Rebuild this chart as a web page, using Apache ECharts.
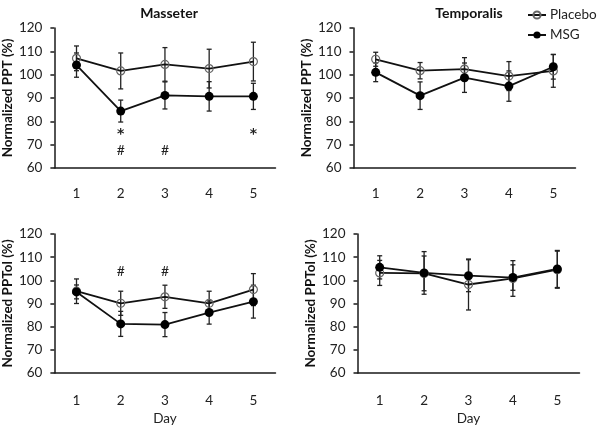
<!DOCTYPE html>
<html>
<head>
<meta charset="utf-8">
<script src="https://cdn.jsdelivr.net/npm/echarts@6/dist/echarts.min.js"></script>
<style>html,body{margin:0;padding:0;background:#fff}#c{width:600px;height:427px}</style>
</head>
<body>
<div id="c"></div>
<script>
// ---- data ----
var days = ['1', '2', '3', '4', '5'];
var yTicks = [60, 70, 80, 90, 100, 110, 120];

// Masseter PPT
var masPPT_placebo = [107, 101.6, 104.4, 102.6, 105.6];
var masPPT_placeboErr = [5.3, 7.7, 7.2, 8.3, 8.3];
var masPPT_msg = [104.1, 84.4, 91.1, 90.7, 90.7];
var masPPT_msgErr = [5.2, 4.7, 5.8, 6.3, 5.6];
var masPPT_marks = [[1, 74.5, '*'], [4, 74.5, '*'], [1, 67.4, '#'], [2, 67.4, '#']];

// Temporalis PPT
var temPPT_placebo = [106.6, 101.7, 102.4, 99.4, 101.6];
var temPPT_placeboErr = [3, 3.5, 4.9, 6.2, 7];
var temPPT_msg = [101, 91, 98.7, 95.1, 103.4];
var temPPT_msgErr = [4, 5.9, 6.3, 6.5, 5.3];

// Masseter PPTol
var masPPTol_placebo = [95.3, 90.1, 92.9, 90.1, 96];
var masPPTol_placeboErr = [5.3, 5.2, 5, 5.2, 6.9];
var masPPTol_msg = [95, 81.2, 80.9, 86.1, 90.8];
var masPPTol_msgErr = [3, 5.4, 5.2, 5, 7.1];
var masPPTol_marks = [[1, 103.9, '#'], [2, 103.9, '#']];

// Temporalis PPTol
var temPPTol_placebo = [103.2, 103, 98.2, 100.8, 104.6];
var temPPTol_placeboErr = [5.4, 7.5, 11, 7.7, 8];
var temPPTol_msg = [105.6, 103.2, 102, 101.2, 104.9];
var temPPTol_msgErr = [5, 9.2, 6.9, 5.5, 8];

// ---- chart ----
var FONT = 'Lato';
var INK = '#1a1a1a';

var grids = [
  {left: 53.5, top: 28, width: 222, height: 140},
  {left: 353.5, top: 28, width: 222, height: 140},
  {left: 53.5, top: 234, width: 222, height: 140},
  {left: 357.5, top: 234, width: 222, height: 140}
];
var yNames = ['Normalized PPT (%)', 'Normalized PPT (%)', 'Normalized PPTol (%)', 'Normalized PPTol (%)'];

function xAxis(i) {
  var bottom = i >= 2;
  return {
    type: 'category', gridIndex: i, data: days, boundaryGap: true,
    axisLine: {lineStyle: {color: INK, width: 1.5}},
    axisTick: {length: 4, lineStyle: {color: INK, width: 1.5}},
    axisLabel: {color: '#222', fontFamily: FONT, fontSize: 13.5, margin: bottom ? 21 : 19},
    name: bottom ? 'Day' : '', nameLocation: 'middle', nameGap: 39,
    nameTextStyle: {color: '#222', fontFamily: FONT, fontSize: 13.5},
    splitLine: {show: false}
  };
}
function yAxis(i) {
  return {
    type: 'value', gridIndex: i, min: yTicks[0], max: yTicks[yTicks.length - 1], interval: 10,
    axisLine: {show: true, lineStyle: {color: INK, width: 1.5}},
    axisTick: {show: true, length: 4, lineStyle: {color: INK, width: 1.5}},
    axisLabel: {color: '#222', fontFamily: FONT, fontSize: 13.5, margin: 12},
    splitLine: {show: false},
    name: yNames[i], nameLocation: 'middle', nameRotate: 90, nameGap: 36,
    nameTextStyle: {color: '#111', fontFamily: FONT, fontSize: 13.5, fontWeight: 'bold'}
  };
}

function errRender(params, api) {
  var x = api.value(0);
  var pLo = api.coord([x, api.value(1)]);
  var pHi = api.coord([x, api.value(2)]);
  var w = 2.5;
  var st = {stroke: '#222', lineWidth: 1.3};
  return {type: 'group', children: [
    {type: 'line', shape: {x1: pLo[0], y1: pLo[1], x2: pHi[0], y2: pHi[1]}, style: st},
    {type: 'line', shape: {x1: pLo[0] - w, y1: pLo[1], x2: pLo[0] + w, y2: pLo[1]}, style: st},
    {type: 'line', shape: {x1: pHi[0] - w, y1: pHi[1], x2: pHi[0] + w, y2: pHi[1]}, style: st}
  ]};
}
function errSeries(i, mean, err) {
  var d = mean.map(function (m, k) { return [k, m - err[k], m + err[k]]; });
  return {type: 'custom', xAxisIndex: i, yAxisIndex: i, renderItem: errRender,
    data: d, encode: {x: 0, y: [1, 2]}, z: 1, silent: true};
}
function lineSeries(i, name, vals) {
  var placebo = name === 'Placebo';
  return {
    type: 'line', name: name, xAxisIndex: i, yAxisIndex: i, data: vals,
    symbol: 'circle', symbolSize: placebo ? 8 : 9,
    lineStyle: {color: '#111', width: 1.8},
    itemStyle: placebo ? {color: 'rgba(255,255,255,0)', borderColor: '#666', borderWidth: 1.2}
                       : {color: '#000', borderColor: '#000', borderWidth: 0},
    z: 3, animation: false
  };
}
function markSeries(i, marks) {
  return {
    type: 'custom', xAxisIndex: i, yAxisIndex: i,
    data: marks.map(function (m) { return [m[0], m[1]]; }),
    encode: {x: 0, y: 1}, silent: true, z: 4,
    renderItem: function (params, api) {
      var p = api.coord([api.value(0), api.value(1)]);
      var t = marks[params.dataIndex][2];
      var star = t === '*';
      return {type: 'text', x: p[0], y: p[1], style: {
        text: t, fill: '#222', fontFamily: star ? 'DejaVu Sans' : FONT, fontSize: star ? 14 : 14,
        fontWeight: star ? 'bold' : 'normal',
        align: 'center', verticalAlign: 'middle'}};
    }
  };
}

var panels = [
  [masPPT_placebo, masPPT_placeboErr, masPPT_msg, masPPT_msgErr, masPPT_marks],
  [temPPT_placebo, temPPT_placeboErr, temPPT_msg, temPPT_msgErr, null],
  [masPPTol_placebo, masPPTol_placeboErr, masPPTol_msg, masPPTol_msgErr, masPPTol_marks],
  [temPPTol_placebo, temPPTol_placeboErr, temPPTol_msg, temPPTol_msgErr, null]
];
var series = [];
panels.forEach(function (p, i) {
  series.push(errSeries(i, p[0], p[1]));
  series.push(errSeries(i, p[2], p[3]));
  series.push(lineSeries(i, 'Placebo', p[0]));
  series.push(lineSeries(i, 'MSG', p[2]));
  if (p[4]) series.push(markSeries(i, p[4]));
});

var option = {
  backgroundColor: '#fff',
  animation: false,
  title: [
    {text: 'Masseter', left: 164, top: 1, textAlign: 'center',
     textStyle: {fontFamily: FONT, fontSize: 14, fontWeight: 'bold', color: '#111'}},
    {text: 'Temporalis', left: 464, top: 1, textAlign: 'center',
     textStyle: {fontFamily: FONT, fontSize: 14, fontWeight: 'bold', color: '#111'}}
  ],
  legend: {
    data: ['Placebo', 'MSG'], orient: 'vertical', left: 522, top: 3,
    itemWidth: 18, itemHeight: 9, itemGap: 6,
    textStyle: {fontFamily: FONT, fontSize: 13.5, color: '#222', padding: [0, 0, 0, -1]}
  },
  grid: grids,
  xAxis: [0, 1, 2, 3].map(xAxis),
  yAxis: [0, 1, 2, 3].map(yAxis),
  series: series
};
var chart = echarts.init(document.getElementById('c'), null, {renderer: 'canvas'});
chart.setOption(option);
</script>
</body>
</html>
